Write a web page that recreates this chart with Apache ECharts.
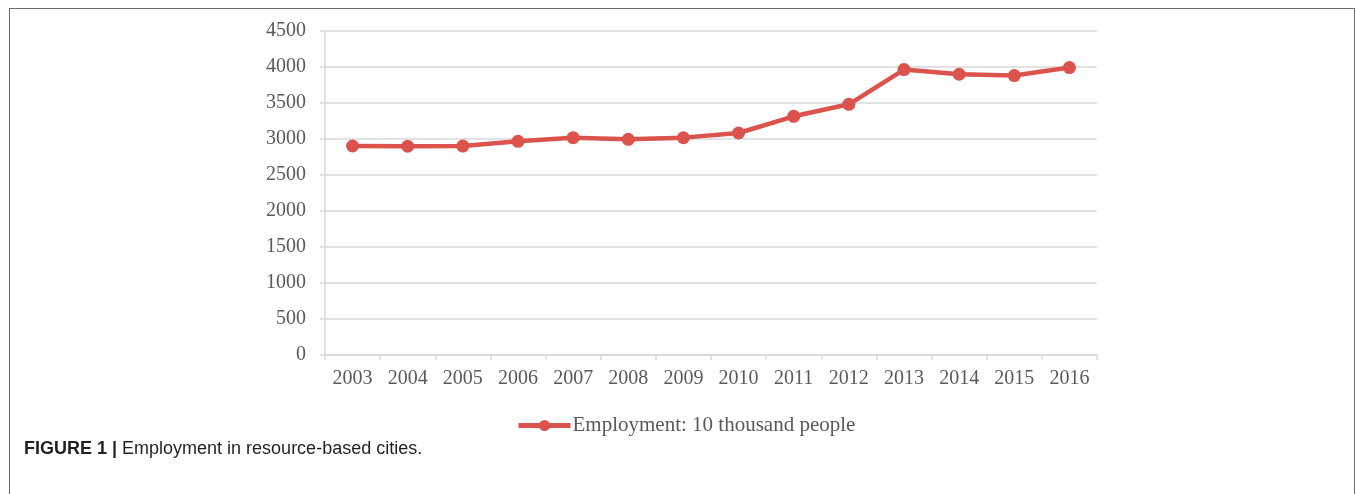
<!DOCTYPE html>
<html>
<head>
<meta charset="utf-8">
<script src="https://cdn.jsdelivr.net/npm/echarts@6/dist/echarts.min.js"></script>
<style>
  html, body { margin: 0; padding: 0; background: #fff; }
  .frame {
    position: absolute;
    left: 9px;
    top: 8px;
    width: 1344px;
    height: 486px;
    border: 1px solid #6b6b6b;
    border-bottom: none;
  }
  #chart { position: absolute; left: 0; top: 0; width: 1355px; height: 494px; }
</style>
</head>
<body>
<div class="frame"></div>
<div id="chart"></div>
<script>
// 年份
var years = ['2003', '2004', '2005', '2006', '2007', '2008', '2009', '2010', '2011', '2012', '2013', '2014', '2015', '2016']
// 就业人数（万人）
var employment = [2903, 2899, 2902, 2968, 3019, 2996, 3019, 3083, 3315, 3482, 3964, 3899, 3881, 3992]
var yTicks = [0, 500, 1000, 1500, 2000, 2500, 3000, 3500, 4000, 4500]

var lineColor = '#dc524c'
var gridColor = '#d9d9d9'
var labelFont = '"Liberation Serif", "Times New Roman", serif'

var chart = echarts.init(document.getElementById('chart'))
chart.setOption({
  animation: false,
  grid: { left: 325, right: 258, top: 31, bottom: 139 },
  legend: {
    data: ['Employment: 10 thousand people'],
    left: 511,
    top: 410,
    itemWidth: 52,
    itemHeight: 14,
    itemGap: 0,
    lineStyle: { width: 5 },
    textStyle: { fontFamily: labelFont, fontSize: 21, color: '#595959', padding: [0, 0, 0, -3] }
  },
  xAxis: {
    type: 'category',
    data: years,
    boundaryGap: true,
    axisLine: { lineStyle: { color: gridColor, width: 1.5 } },
    axisTick: { show: true, length: 5, lineStyle: { color: gridColor, width: 1.5 } },
    axisLabel: { fontFamily: labelFont, fontSize: 20, color: '#595959', margin: 14 }
  },
  yAxis: {
    type: 'value',
    min: yTicks[0],
    max: yTicks[yTicks.length - 1],
    interval: 500,
    axisLine: { show: true, lineStyle: { color: gridColor, width: 1.5 } },
    axisTick: { show: true, length: 5, lineStyle: { color: gridColor, width: 1.5 } },
    splitLine: { lineStyle: { color: gridColor, width: 1.5 } },
    axisLabel: {
      fontFamily: labelFont,
      fontSize: 20,
      color: '#595959',
      margin: 19,
      padding: [3, 0, 0, 0],
      formatter: function (v) { return String(v) }
    }
  },
  series: [
    {
      name: 'Employment: 10 thousand people',
      type: 'line',
      data: employment,
      color: lineColor,
      symbol: 'circle',
      symbolSize: 13,
      lineStyle: { width: 4.5, color: lineColor },
      itemStyle: { color: lineColor }
    }
  ],
  graphic: [
    {
      type: 'text',
      left: 24,
      top: 440,
      style: {
        text: '{b|FIGURE 1 |} Employment in resource-based cities.',
        rich: {
          b: { fontFamily: '"Liberation Sans", Arial, sans-serif', fontSize: 18, fontWeight: 'bold', fill: '#231f20' }
        },
        fontFamily: '"Liberation Sans", Arial, sans-serif',
        fontSize: 18,
        fill: '#231f20'
      }
    }
  ]
})
</script>
</body>
</html>
